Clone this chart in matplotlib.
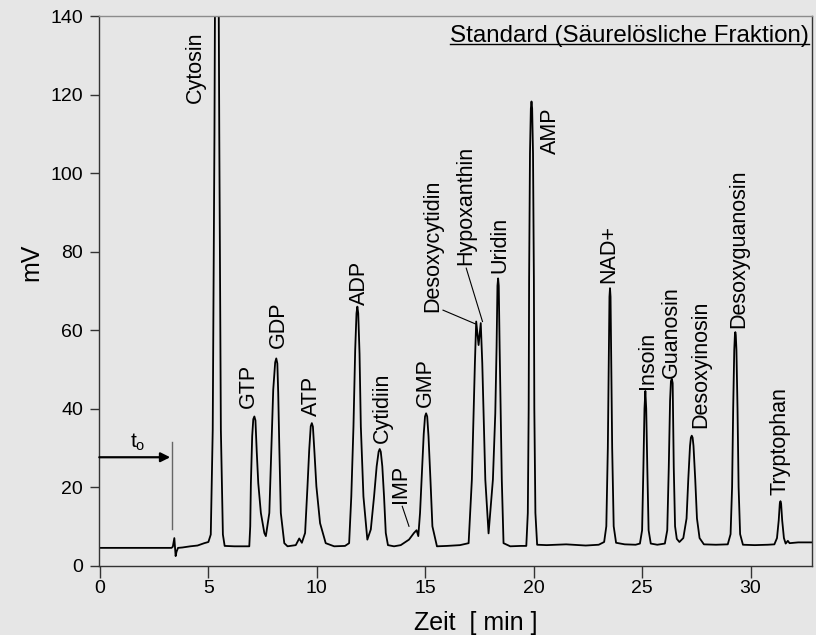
import matplotlib
matplotlib.use("Agg")
import matplotlib.pyplot as plt
import numpy as np

plt.rcParams['font.family'] = ['Liberation Sans', 'DejaVu Sans']
plt.rcParams['mathtext.default'] = 'regular'

# trace, split in pieces (time in min, signal in mV)
t_start = [0.00, 3.30, 3.36, 3.40, 3.43, 3.46, 3.49, 3.53, 3.60, 3.80, 4.17, 4.50, 4.81, 5.00,
           5.11, 5.20, 5.28, 5.334, 5.39, 5.446, 5.502, 5.576, 5.669, 5.75, 6.20, 6.60]
mv_start = [4.5, 4.5, 4.8, 6.0, 7.0, 4.5, 2.4, 3.5, 4.5, 4.6, 4.9, 5.1, 5.7, 6.0,
            7.9, 34.5, 110.0, 184.6, 220.0, 184.6, 110.0, 34.5, 7.9, 5.0, 4.9, 4.9]

# GTP, GDP, ATP
t_nucl = [6.886, 6.93, 6.96, 7.02, 7.07, 7.12, 7.17, 7.23, 7.30, 7.42, 7.58, 7.65, 7.81, 7.91,
          7.99, 8.08, 8.13, 8.18, 8.22, 8.27, 8.34, 8.50, 8.65, 9.03, 9.19, 9.31, 9.46, 9.57,
          9.65, 9.72, 9.77, 9.82, 9.89, 9.98, 10.15, 10.41, 10.80]
mv_nucl = [4.9, 10.0, 21.0, 33.0, 37.3, 38.0, 37.0, 29.0, 21.0, 13.4, 8.3, 7.5, 13.4, 30.4,
           44.8, 51.8, 52.8, 51.5, 44.0, 30.4, 13.4, 5.7, 4.9, 5.2, 6.9, 5.8, 8.3, 20.2,
           29.5, 35.5, 36.3, 35.4, 29.0, 20.2, 10.8, 5.7, 4.9]

# ADP, Cytidiin, IMP, GMP
t_mid = [11.30, 11.49, 11.59, 11.69, 11.77, 11.83, 11.87, 11.91, 11.97, 12.03, 12.15, 12.33,
         12.49, 12.64, 12.76, 12.85, 12.90, 12.95, 13.02, 13.10, 13.18, 13.28, 13.56, 13.87,
         14.25, 14.48, 14.60, 14.68, 14.76, 14.83, 14.93, 14.99, 15.04, 15.09, 15.15, 15.24,
         15.33, 15.54]
mv_mid = [5.0, 5.7, 17.6, 35.4, 55.0, 64.3, 66.0, 64.3, 54.0, 35.4, 17.6, 6.6,
          9.2, 17.6, 25.3, 29.0, 29.7, 29.0, 25.3, 17.6, 8.3, 5.2, 4.9, 5.2,
          6.6, 8.3, 9.0, 7.5, 13.4, 21.9, 33.5, 38.0, 38.8, 38.0, 33.0, 21.9,
          10.0, 4.9]

# Desoxycytidin/Hypoxanthin, Uridin, AMP
t_amp = [16.00, 16.60, 17.00, 17.15, 17.23, 17.29, 17.35, 17.46, 17.56, 17.63, 17.69, 17.77,
         17.92, 18.12, 18.23, 18.29, 18.33, 18.36, 18.39, 18.43, 18.48, 18.53, 18.61, 18.92,
         19.40, 19.66, 19.73, 19.77, 19.79, 19.83, 19.87, 19.90, 19.93, 19.97, 20.01, 20.03,
         20.08, 20.16]
mv_amp = [5.0, 5.2, 5.7, 21.9, 38.8, 51.6, 62.2, 56.2, 61.8, 51.6, 38.8, 21.9,
          8.2, 21.9, 38.8, 55.8, 71.3, 73.2, 71.3, 55.8, 38.8, 21.9, 5.7, 4.9,
          5.0, 5.0, 13.4, 40.0, 73.0, 105.0, 116.5, 118.3, 116.5, 105.0, 73.0, 40.0,
          13.4, 5.3]

# NAD+, Insoin, Guanosin, Desoxyinosin
t_late = [20.60, 21.50, 22.40, 23.00, 23.25, 23.35, 23.42, 23.47, 23.495, 23.52, 23.545, 23.57,
          23.62, 23.69, 23.80, 24.20, 24.70, 24.90, 25.00, 25.06, 25.11, 25.15, 25.19, 25.24,
          25.30, 25.40, 25.70, 26.05, 26.16, 26.23, 26.29, 26.33, 26.37, 26.41, 26.46, 26.52,
          26.60, 26.72, 26.90, 27.05, 27.13, 27.21, 27.25, 27.29, 27.33, 27.37, 27.45, 27.53,
          27.65, 27.85]
mv_late = [5.2, 5.4, 5.1, 5.3, 6.0, 10.0, 30.0, 55.0, 68.5, 70.7, 68.5, 55.0,
           30.0, 10.0, 5.8, 5.4, 5.3, 5.6, 9.0, 25.0, 40.0, 44.5, 40.0, 25.0,
           9.0, 5.6, 5.3, 5.6, 9.0, 25.0, 42.0, 47.0, 47.6, 46.5, 25.0, 10.0,
           6.8, 6.0, 7.0, 12.0, 22.0, 30.5, 32.6, 33.1, 32.6, 30.5, 22.0, 12.0,
           7.0, 5.4]

# Desoxyguanosin, Tryptophan
t_end = [28.40, 28.95, 29.08, 29.15, 29.20, 29.25, 29.28, 29.30, 29.32, 29.35, 29.40, 29.45,
         29.52, 29.65, 30.20, 30.80, 31.10, 31.22, 31.30, 31.35, 31.38, 31.41, 31.46, 31.54,
         31.62, 31.72, 31.80, 32.20, 33.00]
mv_end = [5.3, 5.4, 8.0, 20.0, 40.0, 55.0, 58.8, 59.5, 58.8, 55.0, 40.0, 20.0,
          8.0, 5.3, 5.2, 5.3, 5.4, 7.0, 11.5, 15.8, 16.4, 15.8, 11.5, 7.0,
          5.6, 6.3, 5.7, 5.9, 5.9]

# peak names and where their (rotated) labels sit: centre time, bottom mV
names = ['Cytosin', 'GTP', 'GDP', 'ATP', 'ADP', 'Cytidiin', 'IMP', 'GMP', 'Desoxycytidin',
         'Hypoxanthin', 'Uridin', 'AMP', 'NAD+', 'Insoin', 'Guanosin', 'Desoxyinosin',
         'Desoxyguanosin', 'Tryptophan']
label_t = [4.42, 6.85, 8.25, 9.76, 11.95, 13.02, 13.87, 15.00, 15.35,
           16.88, 18.43, 20.79, 23.47, 25.24, 26.37, 27.71, 29.47, 31.34]
label_mv = [117.8, 40.1, 55.4, 38.0, 66.4, 31.2, 16.0, 40.5, 64.7,
            76.6, 74.5, 105.0, 72.0, 45.0, 47.8, 35.1, 60.6, 18.1]

# leader lines (IMP, Desoxycytidin, Hypoxanthin)
leader_t = [[13.94, 14.25], [15.82, 17.31], [16.89, 17.64]]
leader_mv = [[15.1, 10.0], [65.1, 61.6], [75.8, 62.2]]

t0_time = 3.33
t0_mark = [9.4, 31.6]
t0_arrow_mv = 27.6

t = np.concatenate([t_start, t_nucl, t_mid, t_amp, t_late, t_end])
mv = np.concatenate([mv_start, mv_nucl, mv_mid, mv_amp, mv_late, mv_end])

bg = '#e6e6e6'
fig = plt.figure(figsize=(8.16, 6.35), dpi=100, facecolor=bg)
ax = fig.add_axes([0.1217, 0.1094, 0.8738, 0.8649], facecolor=bg)

ax.plot(t, mv, color='black', lw=1.3, solid_joinstyle='round')

for tt, yy in zip(leader_t, leader_mv):
    ax.plot(tt, yy, color='black', lw=0.8)

for name, x, y in zip(names, label_t, label_mv):
    ax.text(x, y, name, rotation=90, ha='center', va='bottom', fontsize=15.5)

# t0 marker
ax.plot([t0_time, t0_time], t0_mark, color='#666666', lw=1.0)
ax.annotate('', xy=(t0_time - 0.09, t0_arrow_mv), xytext=(-0.03, t0_arrow_mv),
            arrowprops=dict(arrowstyle='-|>', color='black', lw=1.6,
                            mutation_scale=14, shrinkA=0, shrinkB=0))
ax.text(1.75, 30.0, r'$\mathregular{t_o}$', fontsize=15, ha='center', va='baseline')

ax.set_xlim(-0.03, 32.85)
ax.set_ylim(0, 140)
ax.set_xticks(np.arange(0, 31, 5))
ax.set_yticks(np.arange(0, 141, 20))
ax.tick_params(axis='x', length=8.3, width=1.0, pad=2, labelsize=14, color='#333333')
ax.tick_params(axis='y', length=6.7, width=1.0, pad=5, labelsize=14, color='#333333')

for side in ['left', 'bottom', 'right']:
    ax.spines[side].set_color('#333333')
    ax.spines[side].set_linewidth(1.0)
ax.spines['top'].set_color('#8c8c8c')
ax.spines['top'].set_linewidth(1.0)

fig.text(31 / 816, 1 - 262 / 635, 'mV', rotation=90, ha='center', va='center', fontsize=18)
fig.text(475.5 / 816, 1 - 630 / 635, 'Zeit  [ min ]', ha='center', va='baseline', fontsize=18)

title = ax.text(0.9954, 0.954, 'Standard (Säurelösliche Fraktion)', transform=ax.transAxes,
                ha='right', va='baseline', fontsize=17.4)
fig.canvas.draw()
bb = title.get_window_extent().transformed(ax.transAxes.inverted())
ax.plot([bb.x0, bb.x1], [0.9505, 0.9505], transform=ax.transAxes, color='black',
        lw=1.0, clip_on=False)

fig.savefig('out.png', dpi=100, facecolor=bg)
